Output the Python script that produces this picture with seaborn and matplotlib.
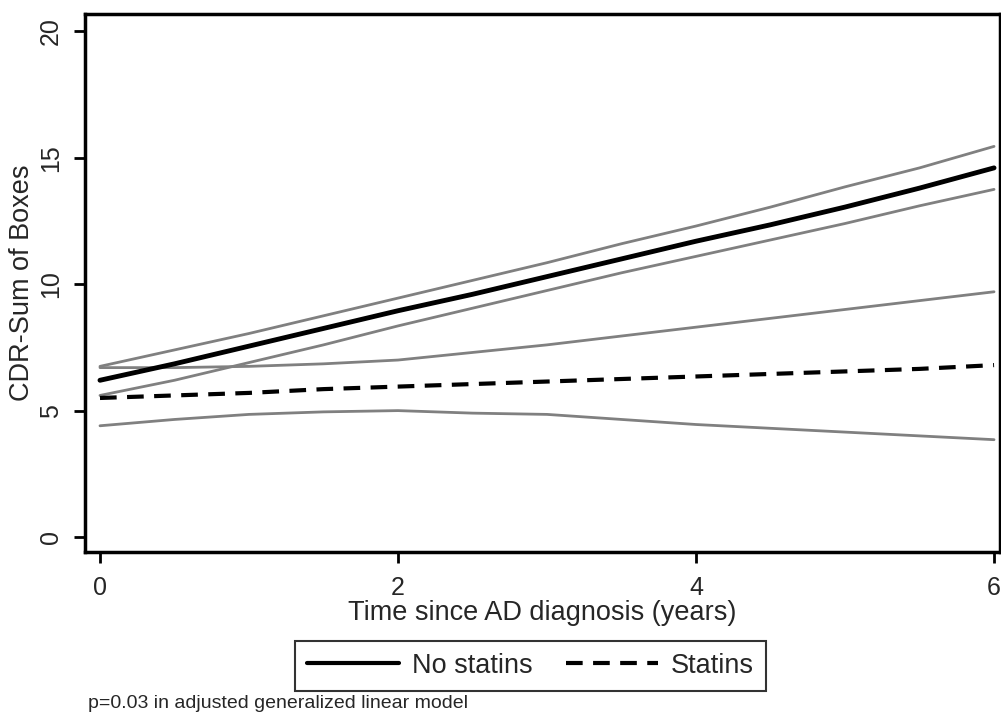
import numpy as np
import pandas as pd
import matplotlib
matplotlib.use("Agg")
import matplotlib.pyplot as plt
import seaborn as sns
from matplotlib.lines import Line2D

# values, at half-year steps
years = [0, 0.5, 1, 1.5, 2, 2.5, 3, 3.5, 4, 4.5, 5, 5.5, 6]
no_statins = [6.2, 6.85, 7.55, 8.25, 8.95, 9.6, 10.3, 11.0, 11.7, 12.35, 13.05, 13.8, 14.6]
no_statins_hi = [6.75, 7.4, 8.05, 8.75, 9.45, 10.15, 10.85, 11.6, 12.3, 13.05, 13.85, 14.6, 15.45]
no_statins_lo = [5.6, 6.2, 6.9, 7.6, 8.35, 9.05, 9.75, 10.45, 11.1, 11.75, 12.4, 13.1, 13.75]
statins = [5.5, 5.6, 5.7, 5.85, 5.95, 6.05, 6.15, 6.25, 6.35, 6.45, 6.55, 6.65, 6.8]
statins_hi = [6.7, 6.7, 6.75, 6.85, 7.0, 7.3, 7.6, 7.95, 8.3, 8.65, 9.0, 9.35, 9.7]
statins_lo = [4.4, 4.65, 4.85, 4.95, 5.0, 4.9, 4.85, 4.65, 4.45, 4.3, 4.15, 4.0, 3.85]

sns.set_style("white")
plt.rcParams['font.family'] = ['Liberation Sans', 'DejaVu Sans']

fig = plt.figure(figsize=(10.01, 7.19), dpi=100)
ax = fig.add_axes([0.085, 0.232, 0.914, 0.749])

grey = "#808080"
for band in [no_statins_hi, no_statins_lo, statins_hi, statins_lo]:
    sns.lineplot(x=years, y=band, color=grey, linewidth=2, ax=ax)
sns.lineplot(x=years, y=no_statins, color="black", linewidth=3.5, ax=ax)
sns.lineplot(x=years, y=statins, color="black", linewidth=3, ax=ax, linestyle=(0, (4, 2.5)))

ax.set_xlim(-0.1, 6.04)
ax.set_ylim(-0.6, 20.7)
ax.set_xticks([0, 2, 4, 6])
ax.set_yticks([0, 5, 10, 15, 20])
ax.tick_params(axis='both', direction='out', length=8, width=2, labelsize=18, color='black',
               bottom=True, left=True)
ax.tick_params(axis='x', pad=9)
ax.tick_params(axis='y', pad=8)
for lab in ax.get_yticklabels():
    lab.set_rotation(90)
    lab.set_va('center')
for s in ax.spines.values():
    s.set_linewidth(2.5)
    s.set_color('black')

ax.set_xlabel("Time since AD diagnosis (years)", fontsize=19.5, labelpad=0)
ax.set_ylabel("CDR-Sum of Boxes", fontsize=19.5, labelpad=3)

handles = [Line2D([], [], color='black', linewidth=3),
           Line2D([], [], color='black', linewidth=3, linestyle=(0, (4, 2.5)))]
leg = fig.legend(handles, ["No statins", "Statins"], loc='center', bbox_to_anchor=(0.53, 0.074),
                 ncol=2, fontsize=19.5, frameon=True, fancybox=False, edgecolor='black',
                 handlelength=3.4, handletextpad=0.5, columnspacing=1.2, borderpad=0.45)
leg.get_frame().set_linewidth(1.5)

fig.text(0.088, 0.01, "p=0.03 in adjusted generalized linear model", fontsize=14, va='bottom')

fig.savefig("out.png", dpi=100)
